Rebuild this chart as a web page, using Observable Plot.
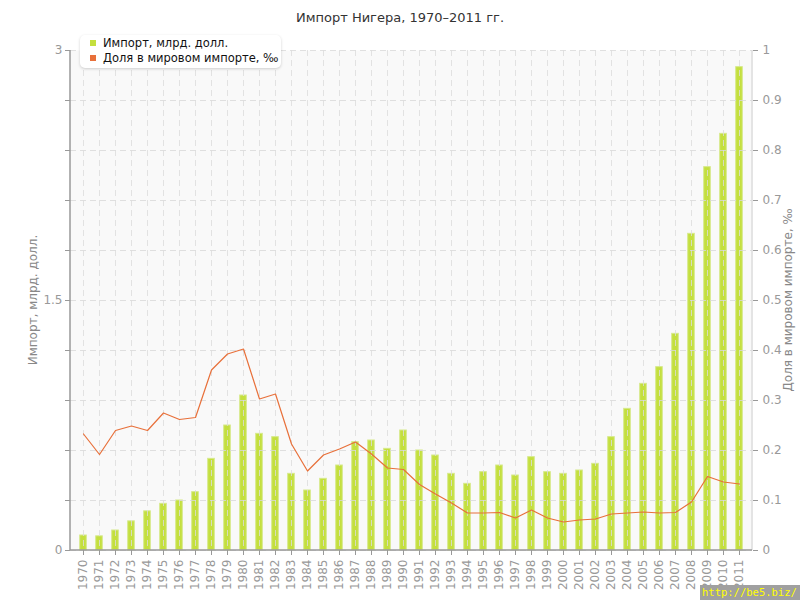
<!DOCTYPE html>
<html>
<head>
<meta charset="utf-8">
<script src="https://cdn.jsdelivr.net/npm/d3@7"></script>
<script src="https://cdn.jsdelivr.net/npm/@observablehq/plot@0.6"></script>
<style>
  html, body { margin: 0; padding: 0; background: #fff; }
  #wrap { position: relative; width: 800px; height: 600px; font-family: "DejaVu Sans", sans-serif; overflow: hidden; }
  #wrap svg { position: absolute; left: 0; top: 0; }
  #title { position: absolute; left: 0; width: 800px; top: 10px; text-align: center; font-size: 13px; color: #333; }
  #legend { position: absolute; left: 80px; top: 35px; width: 201px; height: 33px; background: #fff; border-radius: 5px;
            box-shadow: 0 1px 3px rgba(0,0,0,0.18); font-size: 11.5px; color: #111; }
  .li { position: absolute; left: 10px; white-space: nowrap; }
  .sw { display: inline-block; width: 6px; height: 6px; margin-right: 7px; vertical-align: 1px; }
  .ytitle { position: absolute; font-size: 12px; color: #888; white-space: nowrap; transform-origin: center center; }
  #wm { position: absolute; left: 700px; top: 585px; width: 100px; height: 15px; background: #a0a0a0; color: #ffff00;
        font-family: "DejaVu Sans Mono", monospace; font-size: 10.5px; line-height: 15px; padding-left: 2px; box-sizing: border-box; white-space: nowrap; }
</style>
</head>
<body>
<div id="wrap">
  <div id="title">Импорт Нигера, 1970–2011 гг.</div>
</div>
<script>
const years = [1970,1971,1972,1973,1974,1975,1976,1977,1978,1979,1980,1981,1982,1983,1984,1985,1986,1987,1988,1989,1990,
  1991,1992,1993,1994,1995,1996,1997,1998,1999,2000,2001,2002,2003,2004,2005,2006,2007,2008,2009,2010,2011];
const importBn = [0.09,0.085,0.12,0.175,0.235,0.28,0.30,0.35,0.55,0.75,0.93,0.70,0.68,0.46,0.36,0.43,0.51,0.65,0.66,0.61,0.72,
  0.60,0.57,0.46,0.40,0.47,0.51,0.45,0.56,0.47,0.46,0.48,0.52,0.68,0.85,1.00,1.10,1.30,1.90,2.30,2.50,2.90];
const sharePermille = [0.233,0.192,0.24,0.249,0.24,0.275,0.262,0.266,0.361,0.393,0.403,0.303,0.313,0.213,0.159,0.191,0.203,0.217,0.193,0.165,0.162,
  0.132,0.113,0.095,0.075,0.075,0.076,0.065,0.081,0.065,0.057,0.061,0.063,0.073,0.075,0.077,0.075,0.076,0.097,0.148,0.137,0.133];
const leftTicks = [0,0.3,0.6,0.9,1.2,1.5,1.8,2.1,2.4,2.7,3];
const leftLabelled = [0,1.5,3];
const rightTicks = [0,0.1,0.2,0.3,0.4,0.5,0.6,0.7,0.8,0.9,1];
const seriesNames = ["Импорт, млрд. долл.", "Доля в мировом импорте, ‰"];
const axisTitles = ["Импорт, млрд. долл.", "Доля в мировом импорте, ‰"];
const colors = ["#c4df3e", "#e8703a"];

const rightMax = 1, leftMax = 3;
const toLeft = v => v * leftMax / rightMax;
const data = years.map((y, i) => ({year: y, imp: importBn[i], share: sharePermille[i]}));

const gray = "#999";
const plot = Plot.plot({
  width: 800, height: 600,
  marginLeft: 70, marginRight: 48, marginTop: 50, marginBottom: 50,
  style: {fontFamily: "DejaVu Sans, sans-serif", fontSize: "12px", background: "transparent"},
  x: {type: "band", domain: years, padding: 0, label: null},
  y: {domain: [0, leftMax], label: null},
  marks: [
    Plot.frame({fill: "#f9f9f9", stroke: null}),
    Plot.barY(data, {x: "year", y: "imp", fill: colors[0], stroke: "#d6e98a", strokeWidth: 1, insetLeft: 4.7, insetRight: 4.7}),
    Plot.gridY(leftTicks, {stroke: "#d8d8d8", strokeOpacity: 0.8, strokeDasharray: "6,4"}),
    Plot.gridX(years, {stroke: "#dcdcdc", strokeOpacity: 0.8, strokeDasharray: "6,4"}),
    Plot.line(data, {x: "year", y: d => toLeft(d.share), stroke: colors[1], strokeWidth: 1.2}),
    Plot.axisX({tickRotate: -90, tickSize: 5, tickPadding: 4, fill: gray, stroke: gray, fontSize: 12, label: null,
      tickFormat: d => String(d)}),
    Plot.axisY(leftTicks, {anchor: "left", tickSize: 5, tickPadding: 3, fill: gray, stroke: gray, fontSize: 12, label: null,
      tickFormat: d => leftLabelled.some(v => Math.abs(v - d) < 1e-9) ? String(d) : ""}),
    Plot.axisY(rightTicks.map(toLeft), {anchor: "right", tickSize: 5, tickPadding: 5, fill: gray, stroke: gray, fontSize: 12, label: null,
      tickFormat: d => String(+(d * rightMax / leftMax).toFixed(1))})
  ]
});
const wrap = document.getElementById("wrap");
wrap.insertBefore(plot, wrap.firstChild);

// axis lines using the plot's own scales
const xs = plot.scale("x"), ys = plot.scale("y");
const [x0, x1] = xs.range;
const yTop = ys.apply(leftMax), yBot = ys.apply(0);
const svg = d3.select(plot);
svg.append("line").attr("x1", x1).attr("x2", x1).attr("y1", yTop).attr("y2", yBot).attr("stroke", "#ddd").attr("stroke-width", 1.5);
svg.append("line").attr("x1", x0).attr("x2", x1).attr("y1", yBot).attr("y2", yBot).attr("stroke", gray).attr("stroke-width", 1.5);
svg.append("line").attr("x1", x0).attr("x2", x0).attr("y1", yTop).attr("y2", yBot).attr("stroke", gray).attr("stroke-width", 1.5);

// legend
const legend = document.createElement("div");
legend.id = "legend";
seriesNames.forEach((n, i) => {
  const it = document.createElement("div");
  it.className = "li";
  it.style.top = (1 + i * 15) + "px";
  it.innerHTML = `<span class="sw" style="background:${colors[i]}"></span>${n}`;
  legend.appendChild(it);
});
wrap.appendChild(legend);

// axis titles
const midY = (yTop + yBot) / 2;
axisTitles.forEach((t, i) => {
  const el = document.createElement("div");
  el.className = "ytitle";
  el.textContent = t;
  wrap.appendChild(el);
  const w = el.offsetWidth, h = el.offsetHeight;
  const cx = i === 0 ? 33 : 787;
  el.style.left = (cx - w / 2) + "px";
  el.style.top = (midY - h / 2) + "px";
  el.style.transform = "rotate(-90deg)";
});

const wm = document.createElement("div");
wm.id = "wm";
wm.textContent = "http://be5.biz/";
wrap.appendChild(wm);
</script>
</body>
</html>
